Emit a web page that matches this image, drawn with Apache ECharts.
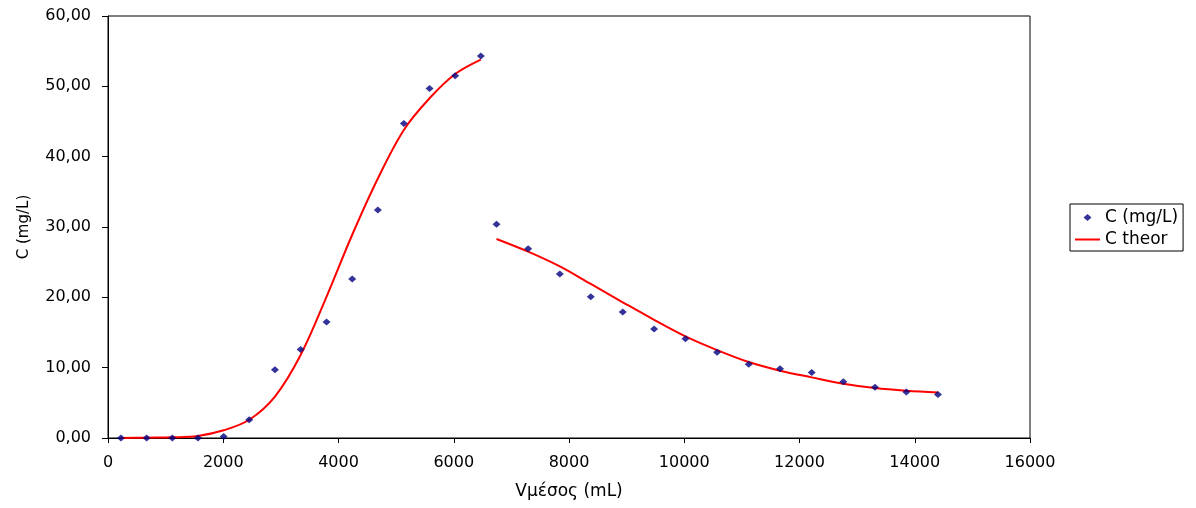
<!DOCTYPE html>
<html>
<head>
<meta charset="utf-8">
<script src="https://cdn.jsdelivr.net/npm/echarts@6/dist/echarts.min.js"></script>
<style>
  html, body { margin: 0; padding: 0; background: #ffffff; }
  #chart { width: 1196px; height: 508px; }
</style>
</head>
<body>
<div id="chart"></div>
<script>
// Measured concentrations, loading phase (mL, mg/L)
var volumesLoad = [225, 671, 1116, 1561, 2007, 2451, 2897, 3343, 3793, 4238, 4683, 5134, 5580, 6025, 6470];
var concLoad    = [0.0, 0.0, 0.0, 0.0, 0.2, 2.6, 9.7, 12.6, 16.5, 22.6, 32.4, 44.7, 49.7, 51.5, 54.3];
// Measured concentrations, washing phase
var volumesWash = [6742, 7291, 7841, 8378, 8933, 9477, 10021, 10570, 11119, 11662, 12212, 12761, 13310, 13854, 14403];
var concWash    = [30.4, 26.9, 23.3, 20.1, 17.9, 15.5, 14.1, 12.2, 10.5, 9.85, 9.3, 8.0, 7.2, 6.55, 6.2];
// Model curve values at the same volumes
var theorLoad = [0.0, 0.05, 0.1, 0.3, 1.1, 2.6, 5.9, 11.8, 20.1, 28.9, 36.9, 43.8, 48.3, 51.75, 53.8];
var theorWash = [28.3, 26.5, 24.4, 21.9, 19.3, 16.8, 14.45, 12.5, 10.8, 9.57, 8.62, 7.72, 7.1, 6.72, 6.48];

var xTicks = { min: 0, max: 16000, interval: 2000 };
var yTicks = { min: 0, max: 60, interval: 10 };

function pairs(xs, ys) {
  return xs.map(function (x, i) { return [x, ys[i]]; });
}

var measured = pairs(volumesLoad, concLoad).concat(pairs(volumesWash, concWash));
// a null entry breaks the model line between the two phases
var theory = pairs(volumesLoad, theorLoad).concat([[null, null]], pairs(volumesWash, theorWash));

// legend glyphs: leading moveTo commands pin the 25x7 box so the glyph keeps its size
var ICON_DIAMOND = 'path://M0,0 M25,7 M12.5,0 L16.5,3.5 L12.5,7 L8.5,3.5 Z';
var ICON_LINE = 'path://M0,0 M25,7 M0,2.5 L25,2.5 L25,4.5 L0,4.5 Z';

var FONT = 'DejaVu Sans';
var chart = echarts.init(document.getElementById('chart'), null, { renderer: 'canvas' });

chart.setOption({
  backgroundColor: '#ffffff',
  animation: false,
  textStyle: { fontFamily: FONT, color: '#000' },
  grid: {
    left: 108, right: 166, top: 16, bottom: 70,
    show: true, borderColor: '#000', borderWidth: 1, backgroundColor: 'transparent'
  },
  legend: {
    orient: 'vertical',
    left: 1070, top: 204,
    padding: [5, 5, 3, 5],
    itemGap: 5,
    itemWidth: 25, itemHeight: 7,
    borderColor: '#000', borderWidth: 1,
    textStyle: { fontFamily: FONT, fontSize: 17, color: '#000' },
    data: [
      { name: 'C (mg/L)', icon: ICON_DIAMOND },
      { name: 'C theor', icon: ICON_LINE }
    ]
  },
  xAxis: {
    type: 'value',
    min: xTicks.min, max: xTicks.max, interval: xTicks.interval,
    name: 'Vμέσος (mL)',
    nameLocation: 'middle',
    nameGap: 45,
    nameTextStyle: { fontFamily: FONT, fontSize: 17, color: '#000' },
    axisLine: { onZero: false, lineStyle: { color: '#000', width: 1 } },
    axisTick: { show: true, inside: false, length: 5, lineStyle: { color: '#000' } },
    axisLabel: {
      fontFamily: FONT, fontSize: 16, color: '#000', margin: 17,
      formatter: function (v) { return String(v); }
    },
    splitLine: { show: false }
  },
  yAxis: {
    type: 'value',
    min: yTicks.min, max: yTicks.max, interval: yTicks.interval,
    name: 'C (mg/L)',
    nameLocation: 'middle',
    nameGap: 76,
    nameTextStyle: { fontFamily: FONT, fontSize: 15, color: '#000' },
    axisLine: { show: true, onZero: false, lineStyle: { color: '#000', width: 1 } },
    axisTick: { show: true, inside: false, length: 6, lineStyle: { color: '#000' } },
    axisLabel: {
      fontFamily: FONT, fontSize: 16, color: '#000', margin: 17,
      formatter: function (v) { return v.toFixed(2).replace('.', ','); }
    },
    splitLine: { show: false }
  },
  series: [
    {
      name: 'C (mg/L)',
      type: 'scatter',
      data: measured,
      symbol: 'diamond',
      symbolSize: [8, 7],
      itemStyle: { color: '#000080' },
      z: 3
    },
    {
      name: 'C theor',
      type: 'line',
      data: theory,
      smooth: 0.35,
      connectNulls: false,
      symbol: 'none',
      showSymbol: false,
      lineStyle: { color: '#ff0000', width: 2 },
      itemStyle: { color: '#ff0000' },
      z: 2
    }
  ]
});
</script>
</body>
</html>
